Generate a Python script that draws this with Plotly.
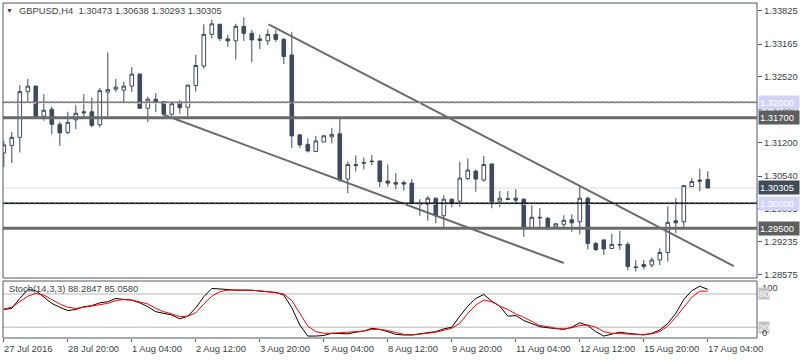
import plotly.graph_objects as go

# ---------------- data ----------------
bar_index = list(range(89))

opens = [1.3100, 1.3115, 1.3131, 1.3222, 1.3233, 1.3173, 1.3187, 1.3157, 1.3141, 1.3166,
         1.3182, 1.3182, 1.3156, 1.3221, 1.3227, 1.3225, 1.3233, 1.3257, 1.3189, 1.3207,
         1.3202, 1.3177, 1.3200, 1.3191, 1.3234, 1.3273, 1.3336, 1.3356, 1.3327, 1.3323,
         1.3352, 1.3338, 1.3327, 1.3323, 1.3336, 1.3326, 1.3295, 1.3136, 1.3117, 1.3103,
         1.3122, 1.3132, 1.3138, 1.3048, 1.3077, 1.3081, 1.3084, 1.3084, 1.3044, 1.3041,
         1.3041, 1.3040, 1.2999, 1.2998, 1.3010, 1.2975, 1.3008, 1.3004, 1.3049, 1.3064,
         1.3046, 1.3078, 1.3004, 1.3009, 1.3010, 1.3008, 1.2950, 1.2972, 1.2970, 1.2953,
         1.2958, 1.2967, 1.2963, 1.3010, 1.2920, 1.2927, 1.2910, 1.2918, 1.2918, 1.2872,
         1.2874, 1.2877, 1.2887, 1.2902, 1.2965, 1.2963, 1.3033, 1.3046, 1.30473]
highs = [1.3124, 1.3142, 1.3235, 1.3247, 1.3234, 1.3217, 1.3192, 1.3162, 1.3182, 1.3195,
         1.3217, 1.3210, 1.3229, 1.3300, 1.3247, 1.3242, 1.3271, 1.3258, 1.3212, 1.3219,
         1.3203, 1.3199, 1.3205, 1.3236, 1.3295, 1.3356, 1.3365, 1.3357, 1.3335, 1.3357,
         1.3370, 1.3345, 1.3336, 1.3346, 1.3345, 1.3329, 1.3341, 1.3137, 1.3129, 1.3134,
         1.3136, 1.3150, 1.3172, 1.3083, 1.3095, 1.3091, 1.3096, 1.3085, 1.3077, 1.3060,
         1.3045, 1.3048, 1.3008, 1.3014, 1.3011, 1.3016, 1.3010, 1.3083, 1.3089, 1.3067,
         1.3094, 1.3079, 1.3024, 1.3024, 1.3028, 1.3010, 1.2996, 1.2990, 1.2973, 1.2961,
         1.2976, 1.2978, 1.3034, 1.3013, 1.2923, 1.2928, 1.2939, 1.2945, 1.2923, 1.2887,
         1.2887, 1.2892, 1.2910, 1.2994, 1.3010, 1.3036, 1.3050, 1.3069, 1.30638]
lows = [1.3072, 1.3080, 1.3101, 1.3202, 1.3170, 1.3164, 1.3137, 1.3114, 1.3137, 1.3147,
        1.3171, 1.3151, 1.3151, 1.3171, 1.3221, 1.3199, 1.3221, 1.3188, 1.3161, 1.3181,
        1.3174, 1.3174, 1.3178, 1.3172, 1.3222, 1.3268, 1.3328, 1.3323, 1.3311, 1.3286,
        1.3323, 1.3280, 1.3307, 1.3315, 1.3321, 1.3277, 1.3110, 1.3110, 1.3101, 1.3102,
        1.3121, 1.3119, 1.3043, 1.3020, 1.3063, 1.3067, 1.3076, 1.3032, 1.3033, 1.3028,
        1.3025, 1.2998, 1.2975, 1.2965, 1.2960, 1.2953, 1.2992, 1.2993, 1.3046, 1.3023,
        1.3043, 1.2990, 1.2992, 1.3006, 1.2998, 1.2933, 1.2949, 1.2953, 1.2947, 1.2950,
        1.2952, 1.2943, 1.2938, 1.2908, 1.2905, 1.2897, 1.2909, 1.2907, 1.2867, 1.2864,
        1.2868, 1.2872, 1.2877, 1.2884, 1.2940, 1.2953, 1.3032, 1.3024, 1.30293]
closes = [1.3116, 1.3131, 1.3222, 1.3233, 1.3171, 1.3185, 1.3157, 1.3140, 1.3161, 1.3179,
          1.3180, 1.3155, 1.3224, 1.3226, 1.3231, 1.3233, 1.3257, 1.3189, 1.3207, 1.3201,
          1.3177, 1.3198, 1.3190, 1.3235, 1.3274, 1.3336, 1.3357, 1.3328, 1.3323, 1.3352,
          1.3338, 1.3325, 1.3324, 1.3336, 1.3326, 1.3292, 1.3134, 1.3116, 1.3104, 1.3124,
          1.3134, 1.3137, 1.3046, 1.3077, 1.3075, 1.3080, 1.3083, 1.3043, 1.3040, 1.3038,
          1.3038, 1.3000, 1.2998, 1.3010, 1.2975, 1.3008, 1.3000, 1.3050, 1.3066, 1.3048,
          1.3077, 1.3003, 1.3010, 1.3008, 1.3006, 1.2950, 1.2972, 1.2971, 1.2949, 1.2959,
          1.2966, 1.2961, 1.3010, 1.2920, 1.2908, 1.2909, 1.2918, 1.2917, 1.2874, 1.2873,
          1.2878, 1.2887, 1.2902, 1.2962, 1.2961, 1.3035, 1.3043, 1.3044, 1.30305]

stoch_k = [52, 54, 72, 88, 86, 74, 63, 56, 50, 52,
           57, 59, 64, 66, 72, 70, 69, 64, 57, 48,
           45, 42, 35, 40, 55, 75, 90, 89, 87, 87,
           87, 87, 85, 84, 83, 78, 55, 24, 4, 4,
           5, 9, 8, 8, 11, 13, 18, 16, 12, 7,
           6, 6, 8, 10, 12, 17, 20, 40, 58, 72,
           79, 67, 58, 40, 41, 32, 26, 21, 19, 18,
           16, 20, 28, 23, 12, 4, 8, 11, 9, 8,
           6, 9, 15, 27, 45, 70, 86, 94, 88.2847]
stoch_d = [53, 56, 66, 76, 81, 78, 70, 62, 56, 54,
           56, 58, 61, 63, 68, 70, 69, 66, 62, 54,
           48, 44, 39, 40, 46, 62, 76, 84, 87, 87,
           87, 87, 86, 84, 82, 80, 68, 45, 22, 12,
           9, 9, 10, 10, 11, 13, 16, 16, 14, 10,
           7, 6, 7, 9, 11, 14, 18, 27, 45, 60,
           69, 66, 58, 52, 44, 38, 30, 23, 21, 18,
           17, 19, 23, 24, 20, 12, 9, 8, 8, 7,
           7, 8, 12, 22, 38, 55, 74, 85, 85.0580]
stoch_levels = [20, 80]

time_tick_index = [0, 8, 16, 24, 32, 40, 48, 56, 64, 72, 80, 88]
time_tick_labels = ["27 Jul 2016", "28 Jul 20:00", "1 Aug 04:00", "2 Aug 12:00",
                    "3 Aug 20:00", "5 Aug 04:00", "8 Aug 12:00", "9 Aug 20:00",
                    "11 Aug 04:00", "12 Aug 12:00", "15 Aug 20:00", "17 Aug 04:00"]

price_tick_values = [1.33825, 1.33165, 1.32520, 1.31860, 1.31200,
                     1.30540, 1.29895, 1.29235, 1.28575]
price_tick_labels = ["1.33825", "1.33165", "1.32520", "1.31860", "1.31200",
                     "1.30540", "1.29895", "1.29235", "1.28575"]

resistance_levels = [1.3201, 1.3170]       # grey horizontal lines
support_levels = [1.2950]
round_level = 1.3000                        # black line
alert_levels = [1.3199, 1.2998]             # dashed lavender lines
bid_price = 1.30305

upper_trend_x = [33.1, 91.25]
upper_trend_y = [1.3356, 1.2875]
lower_trend_x = [20.0, 70.0]
lower_trend_y = [1.3176, 1.2881]

title_text = "GBPUSD,H4  1.30473 1.30638 1.30293 1.30305"
stoch_title = "Stoch(14,3,3) 88.2847 85.0580"

# ---------------- styling ----------------
FONT = "Liberation Sans, Arial, sans-serif"
FS = 9.4
CANDLE = "#3e4a5b"
FRAME = "#4f5964"
TXT = "#3a3f46"
MAIN_DOM = [0.1791, 1.0]
STO_DOM = [0.0, 0.1701]
LABEL_X = 1.0013

fig = go.Figure()

fig.add_trace(go.Candlestick(
    x=bar_index, open=opens, high=highs, low=lows, close=closes,
    increasing=dict(line=dict(color=CANDLE, width=1), fillcolor="#ffffff"),
    decreasing=dict(line=dict(color=CANDLE, width=1), fillcolor=CANDLE),
    whiskerwidth=0, hoverinfo="skip", showlegend=False,
    xaxis="x", yaxis="y"))

for tx, ty in ((upper_trend_x, upper_trend_y), (lower_trend_x, lower_trend_y)):
    fig.add_trace(go.Scatter(x=tx, y=ty, mode="lines",
                             line=dict(color="#6b6b6b", width=2),
                             hoverinfo="skip", showlegend=False,
                             xaxis="x", yaxis="y"))

fig.add_trace(go.Scatter(x=bar_index, y=stoch_k, mode="lines",
                         line=dict(color="#000000", width=1),
                         hoverinfo="skip", showlegend=False, xaxis="x", yaxis="y2"))
fig.add_trace(go.Scatter(x=bar_index, y=stoch_d, mode="lines",
                         line=dict(color="#ff0000", width=1),
                         hoverinfo="skip", showlegend=False, xaxis="x", yaxis="y2"))

shapes = []
def hline(yv, color, width, dash="solid", yref="y", layer="above"):
    shapes.append(dict(type="line", xref="paper", x0=0, x1=1, yref=yref,
                       y0=yv, y1=yv, layer=layer,
                       line=dict(color=color, width=width, dash=dash)))

hline(bid_price, "#e8e8e8", 1.5, layer="below")
hline(resistance_levels[0], "#6e6e6e", 1.5)
hline(resistance_levels[1], "#6b6b6b", 3)
hline(support_levels[0], "#6b6b6b", 3)
hline(round_level, "#000000", 1.5)
for a in alert_levels:
    hline(a, "#cdcdf0", 1, dash="3px,2px")
for lv in stoch_levels:
    hline(lv, "#b8b8b8", 1, yref="y2", layer="below")

# panel frames
for dom in (MAIN_DOM, STO_DOM):
    shapes.append(dict(type="rect", xref="paper", yref="paper", x0=0, x1=1,
                       y0=dom[0], y1=dom[1], layer="above",
                       line=dict(color=FRAME, width=1)))

annotations = []
annotations.append(dict(xref="paper", yref="paper", x=0.0085, y=0.9790,
                        text="▼", showarrow=False, xanchor="center", yanchor="middle",
                        font=dict(family=FONT, size=7, color=TXT)))
annotations.append(dict(xref="paper", yref="paper", x=0.0185, y=0.9776,
                        text=title_text, showarrow=False, xanchor="left", yanchor="middle",
                        font=dict(family=FONT, size=FS, color=TXT)))
annotations.append(dict(xref="paper", yref="paper", x=0.005, y=0.1463,
                        text=stoch_title, showarrow=False, xanchor="left", yanchor="middle",
                        font=dict(family=FONT, size=FS, color=TXT)))

for idx, lab in zip(time_tick_index, time_tick_labels):
    annotations.append(dict(xref="x", yref="paper", x=idx, y=-0.031, xshift=-2,
                            text=lab, showarrow=False, xanchor="left", yanchor="middle",
                            font=dict(family=FONT, size=FS, color=TXT)))

def price_box(yv, text, bg, yref="y"):
    annotations.append(dict(xref="paper", yref=yref, x=LABEL_X, y=yv,
                            text=text, showarrow=False, xanchor="left", yanchor="middle",
                            bgcolor=bg, borderpad=1, width=38, align="left",
                            font=dict(family=FONT, size=FS, color="#ffffff")))

price_box(1.3200, "1.32000", "#d3d3f5")
price_box(resistance_levels[1], "1.31700", "#5e5e5e")
price_box(bid_price, "1.30305", "#414b57")
price_box(round_level, "1.30000", "#d3d3f5")
price_box(support_levels[0], "1.29500", "#5e5e5e")

annotations.append(dict(xref="paper", yref="y2", x=LABEL_X + 0.003, y=92.5, text="100",
                        showarrow=False, xanchor="left", yanchor="middle",
                        font=dict(family=FONT, size=FS, color=TXT)))
for lv in stoch_levels:
    annotations.append(dict(xref="paper", yref="y2", x=LABEL_X, y=lv, text=str(lv),
                            showarrow=False, xanchor="left", yanchor="middle",
                            bgcolor="#c4c4c4", borderpad=0,
                            font=dict(family=FONT, size=FS, color="#ffffff")))
annotations.append(dict(xref="paper", yref="y2", x=LABEL_X + 0.003, y=11.3, text="0",
                        showarrow=False, xanchor="left", yanchor="middle",
                        font=dict(family=FONT, size=FS, color=TXT)))

fig.update_layout(
    width=800, height=360,
    margin=dict(l=3, r=43, t=3, b=22, autoexpand=False),
    paper_bgcolor="#ffffff", plot_bgcolor="#ffffff",
    boxgap=0.35,
    showlegend=False,
    shapes=shapes, annotations=annotations,
    xaxis=dict(range=[-0.1, 94.15], anchor="y2", showgrid=False, zeroline=False,
               tickvals=time_tick_index, ticks="outside", ticklen=3,
               tickcolor=FRAME, showticklabels=False, showline=False,
               rangeslider=dict(visible=False), fixedrange=True, automargin=False),
    yaxis=dict(domain=MAIN_DOM, range=[1.28512, 1.33984], side="right",
               showgrid=False, zeroline=False, showline=False,
               tickvals=price_tick_values, ticktext=price_tick_labels,
               ticks="outside", ticklen=4, tickcolor=FRAME, automargin=False,
               tickfont=dict(family=FONT, size=FS, color=TXT), anchor="x"),
    yaxis2=dict(domain=STO_DOM, range=[0.5, 103.4], side="right",
                showgrid=False, zeroline=False, showline=False, automargin=False,
                showticklabels=False, ticks="", anchor="x"),
)

fig.write_html("out.html",
               config={"displayModeBar": False, "staticPlot": True},
               post_script="document.body.style.margin='0px';document.body.style.padding='0px';")
